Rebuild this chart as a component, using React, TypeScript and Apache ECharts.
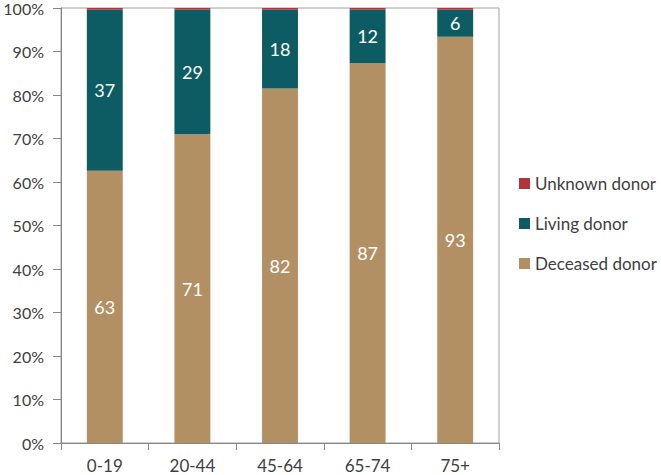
import React, { useEffect, useRef } from "react";
import * as echarts from "echarts";

const categories = ["0-19", "20-44", "45-64", "65-74", "75+"];
const deceased = [62.6, 71.0, 81.5, 87.3, 93.4];
const living = [37.0, 28.6, 18.1, 12.3, 6.2];
const unknown = [0.4, 0.4, 0.4, 0.4, 0.4];
const yTicks = [0, 10, 20, 30, 40, 50, 60, 70, 80, 90, 100];

const FONT = "Lato, 'Open Sans', sans-serif";

export default function App() {
  const ref = useRef<HTMLDivElement>(null);
  useEffect(() => {
    if (!ref.current) return;
    const chart = echarts.init(ref.current, undefined, { renderer: "svg" });
    const labelStyle = {
      show: true,
      position: "inside" as const,
      color: "#ffffff",
      fontSize: 18,
      fontFamily: FONT,
      formatter: (p: any) => String(Math.round(p.value)),
    };
    chart.setOption({
      animation: false,
      textStyle: { fontFamily: FONT },
      grid: {
        left: 61,
        right: 162,
        top: 7,
        bottom: 32,
        show: true,
        borderColor: "#a0a0a0",
        borderWidth: 1,
        backgroundColor: "transparent",
      },
      legend: {
        orient: "vertical",
        left: 514,
        top: 170,
        itemWidth: 11,
        itemHeight: 11,
        itemGap: 23,
        icon: "rect",
        data: ["Unknown donor", "Living donor", "Deceased donor"],
        textStyle: { fontSize: 17, color: "#404040", fontFamily: FONT },
      },
      xAxis: {
        type: "category",
        data: categories,
        axisLine: { lineStyle: { color: "#868686" } },
        axisTick: { show: true, length: 7, lineStyle: { color: "#868686" } },
        axisLabel: { fontSize: 17, color: "#404040", margin: 14, fontFamily: FONT },
      },
      yAxis: {
        type: "value",
        min: 0,
        max: 100,
        interval: 10,
        axisLine: { show: true, lineStyle: { color: "#868686" } },
        axisTick: { show: true, length: 8, lineStyle: { color: "#868686" } },
        splitLine: { show: false },
        axisLabel: {
          fontSize: 16,
          color: "#404040",
          margin: 17,
          fontFamily: FONT,
          formatter: (v: number) => (yTicks.includes(v) ? v + "%" : ""),
        },
      },
      series: [
        {
          name: "Deceased donor",
          type: "bar",
          stack: "total",
          data: deceased,
          barCategoryGap: "59%",
          itemStyle: { color: "#B39064" },
          label: labelStyle,
        },
        {
          name: "Living donor",
          type: "bar",
          stack: "total",
          data: living,
          itemStyle: { color: "#0E5C63" },
          label: labelStyle,
        },
        {
          name: "Unknown donor",
          type: "bar",
          stack: "total",
          data: unknown,
          itemStyle: { color: "#B0343C" },
          label: { show: false },
        },
      ],
    });
    return () => chart.dispose();
  }, []);
  return <div ref={ref} style={{ width: 661, height: 475, position: "absolute", left: 0, top: 0 }} />;
}
